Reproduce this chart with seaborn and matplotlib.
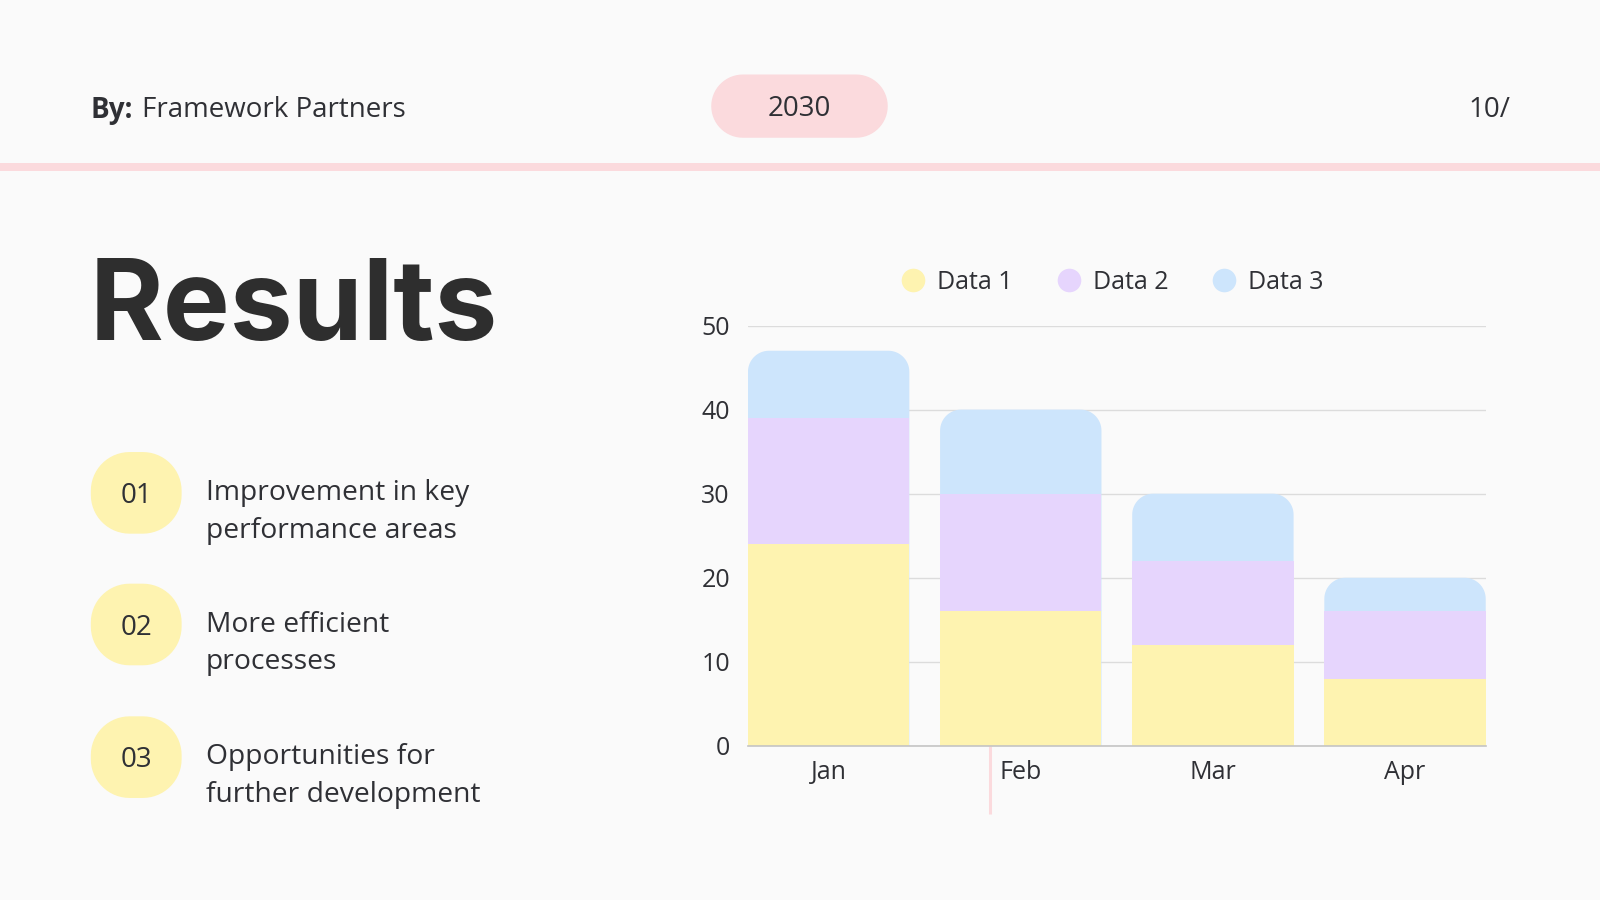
import matplotlib
matplotlib.use("Agg")
import matplotlib.pyplot as plt
from matplotlib.patches import Polygon, Rectangle
from matplotlib.lines import Line2D
import numpy as np
import seaborn as sns
import pandas as pd

# ---------------- data ----------------
months = ["Jan", "Feb", "Mar", "Apr"]
data1 = [24, 16, 12, 8]
data2 = [15, 14, 10, 8]
data3 = [8, 10, 8, 4]
series_names = ["Data 1", "Data 2", "Data 3"]
y_ticks = [0, 10, 20, 30, 40, 50]
item_numbers = ["01", "02", "03"]
item_lines = [["Improvement in key", "performance areas"],
              ["More efficient", "processes"],
              ["Opportunities for", "further development"]]
author = "Framework Partners"
year_label = "2030"
page_label = "10/"
title = "Results"

# ---------------- style ----------------
BG = "#fafafa"
YEL = "#fef3b0"
PUR = "#e6d5fd"
BLU = "#cde5fc"
PINK = "#fbdadd"
TXT = "#2f3035"
colors = {"Data 1": YEL, "Data 2": PUR, "Data 3": BLU}


def rounded_rect(x, y0, w, h, rx, ry, top_only=False):
    """Vertices of a rectangle with elliptical-arc corners (y0 = lower y value, y increases up)."""
    t = np.linspace(0, np.pi / 2, 16)
    y1 = y0 + h
    pts = []
    pts += list(zip(x + w - rx + rx * np.cos(t), y1 - ry + ry * np.sin(t)))
    pts += list(zip(x + rx - rx * np.sin(t), y1 - ry + ry * np.cos(t)))
    if top_only:
        pts += [(x, y0), (x + w, y0)]
    else:
        pts += list(zip(x + rx - rx * np.cos(t), y0 + ry - ry * np.sin(t)))
        pts += list(zip(x + w - rx + rx * np.sin(t), y0 + ry - ry * np.cos(t)))
    return np.array(pts)


sns.set_theme(style="white")
plt.rcParams['font.family'] = ['Open Sans', 'DejaVu Sans']

fig = plt.figure(figsize=(16, 9), dpi=100, facecolor=BG)
W, H = 1568, 882  # layout reference units

ov = fig.add_axes([0, 0, 1, 1])
ov.set_xlim(0, W)
ov.set_ylim(H, 0)
ov.axis('off')
ov.set_zorder(0)

# header
ov.text(89, 108, "By:", fontsize=20, fontweight='bold', color=TXT, va='center', ha='left')
ov.text(139, 108, author, fontsize=20, color=TXT, va='center', ha='left')
ov.add_patch(Polygon(rounded_rect(697, 73, 173, 62, 31, 31), closed=True, fc=PINK, ec='none'))
ov.text(783.5, 107, year_label, fontsize=20, color=TXT, va='center', ha='center')
ov.text(1480, 108, page_label, fontsize=20, color=TXT, va='center', ha='right')
ov.add_patch(Rectangle((0, 160), W, 8, fc=PINK, ec='none'))

# title
ov.text(88, 333, title, fontsize=81, fontweight='bold', color="#2e2e2e",
        family=['Inter', 'DejaVu Sans'], va='baseline', ha='left')

# list items
item_centers = [483, 612, 742]
for num, lines, cy in zip(item_numbers, item_lines, item_centers):
    ov.add_patch(Polygon(rounded_rect(89, cy - 40, 89, 80, 38, 38), closed=True, fc=YEL, ec='none'))
    ov.text(133.5, cy + 3, num, fontsize=20, color=TXT, va='center', ha='center')
    ov.text(202, cy + 7, lines[0], fontsize=20.3, color=TXT, va='baseline', ha='left')
    ov.text(202, cy + 44, lines[1], fontsize=20.3, color=TXT, va='baseline', ha='left')

# decorative pink vertical line
ov.plot([970, 970], [731, 798], color=PINK, lw=2.2, solid_capstyle='butt')

# ---------------- chart ----------------
ax = fig.add_axes([733 / W, 1 - 731 / H, 723 / W, 412 / H])
ax.set_facecolor('none')
ax.set_zorder(1)

cum1 = list(data1)
cum2 = [a + b for a, b in zip(data1, data2)]
cum3 = [a + b + c for a, b, c in zip(data1, data2, data3)]
df = pd.DataFrame({
    "month": months * 3,
    "value": cum3 + cum2 + cum1,
    "series": ["Data 3"] * 4 + ["Data 2"] * 4 + ["Data 1"] * 4,
})
sns.barplot(data=df, x="month", y="value", hue="series",
            hue_order=["Data 3", "Data 2", "Data 1"], order=months,
            palette=colors, dodge=False, width=0.84, errorbar=None,
            saturation=1, legend=False, linewidth=0, zorder=2, ax=ax)

ax.set_xlim(-0.42, 3.42)
ax.set_ylim(0, 50)
ax.set_yticks(y_ticks)
ax.set_yticklabels([str(v) for v in y_ticks])
ax.set_xlabel("")
ax.set_ylabel("")

# rounded tops for the top segment
fig_w_px, fig_h_px = fig.get_size_inches() * fig.dpi
ax_w_px = ax.get_position().width * fig_w_px
ax_h_px = ax.get_position().height * fig_h_px
px_x = ax_w_px / (3.42 + 0.42)
px_y = ax_h_px / 50
radius_px = 21
for bar in ax.containers[0]:
    x, y, w, h = bar.get_x(), bar.get_y(), bar.get_width(), bar.get_height()
    bar.set_visible(False)
    ax.add_patch(Polygon(rounded_rect(x, y, w, h, radius_px / px_x, radius_px / px_y, top_only=True),
                         closed=True, fc=BLU, ec='none', zorder=1.9))

ax.set_axisbelow(True)
ax.yaxis.grid(True, color="#dcdcdc", lw=1)
ax.xaxis.grid(False)
for s in ["top", "right", "left"]:
    ax.spines[s].set_visible(False)
ax.spines["bottom"].set_color("#c4c4c4")
ax.spines["bottom"].set_linewidth(1.2)
ax.tick_params(axis='y', length=0, pad=13, labelsize=18, labelcolor=TXT)
ax.tick_params(axis='x', length=0, pad=10, labelsize=18, labelcolor=TXT)

handles = [Line2D([], [], marker='o', ls='', markersize=17, markerfacecolor=colors[n],
                  markeredgecolor='none') for n in series_names]
ax.legend(handles, series_names, loc='center', bbox_to_anchor=(1090 / W, 1 - 277 / H),
          bbox_transform=fig.transFigure, ncol=3, frameon=False, fontsize=18,
          handlelength=1.0, handletextpad=0.45, columnspacing=1.75, labelcolor=TXT)

fig.savefig("out.png", dpi=100, facecolor=BG)
